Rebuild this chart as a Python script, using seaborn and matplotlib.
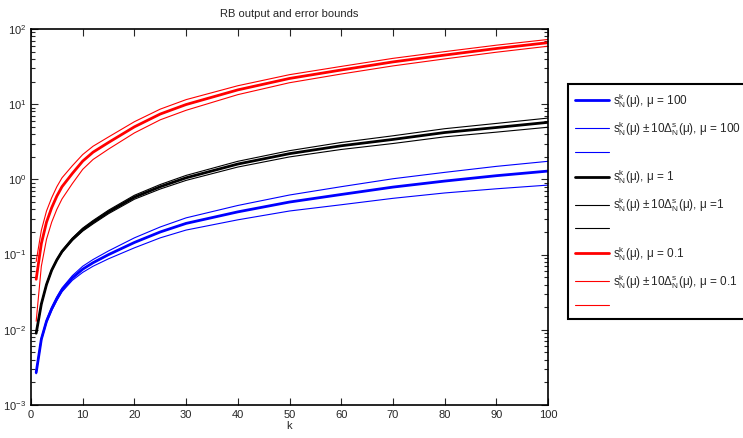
import numpy as np
import pandas as pd
import matplotlib
matplotlib.use("Agg")
import matplotlib.pyplot as plt
import seaborn as sns

# sample points k and values
k = [1, 2, 3, 4, 5, 6, 8, 10, 12, 15, 20, 25, 30, 40, 50, 60, 70, 80, 90, 100]

# mu = 100 (blue)
s_100 = [0.0027, 0.0075, 0.013, 0.019, 0.026, 0.034, 0.049, 0.064, 0.078, 0.10,
         0.145, 0.20, 0.26, 0.37, 0.50, 0.63, 0.79, 0.95, 1.12, 1.29]
d_100 = [0.0001, 0.0003, 0.0006, 0.001, 0.0015, 0.002, 0.0035, 0.006, 0.008, 0.012,
         0.022, 0.033, 0.048, 0.08, 0.12, 0.17, 0.23, 0.29, 0.37, 0.45]

# mu = 1 (black)
s_1 = [0.009, 0.022, 0.040, 0.062, 0.085, 0.11, 0.16, 0.215, 0.27, 0.37,
       0.58, 0.80, 1.05, 1.6, 2.2, 2.8, 3.4, 4.2, 4.9, 5.74]
d_1 = [0.0001, 0.0004, 0.0008, 0.0015, 0.002, 0.003, 0.006, 0.01, 0.014, 0.02,
       0.035, 0.055, 0.08, 0.14, 0.21, 0.30, 0.40, 0.52, 0.65, 0.80]

# mu = 0.1 (red)
s_01 = [0.047, 0.14, 0.27, 0.42, 0.60, 0.80, 1.2, 1.75, 2.3, 3.1,
        5.0, 7.4, 9.9, 15.5, 22.0, 28.5, 36.5, 45.0, 55.0, 65.8]
d_01 = [0.034, 0.07, 0.11, 0.15, 0.20, 0.25, 0.32, 0.39, 0.46, 0.57,
        0.85, 1.2, 1.6, 2.1, 2.7, 3.3, 4.2, 5.0, 5.9, 6.8]

sns.set_style("ticks")
plt.rcParams["font.family"] = ["Liberation Sans", "DejaVu Sans"]
plt.rcParams["mathtext.default"] = "regular"

fig = plt.figure(figsize=(7.43, 4.38), dpi=100)
ax = fig.add_axes([31 / 743, 33 / 438, 517 / 743, 376 / 438])

series = [
    (s_100, d_100, "blue", r"$s^k_N(\mu)$, $\mu$ = 100", r"$s^k_N(\mu) \pm 10\Delta^s_N(\mu)$, $\mu$ = 100"),
    (s_1, d_1, "black", r"$s^k_N(\mu)$, $\mu$ = 1", r"$s^k_N(\mu) \pm 10\Delta^s_N(\mu)$, $\mu$ =1"),
    (s_01, d_01, "red", r"$s^k_N(\mu)$, $\mu$ = 0.1", r"$s^k_N(\mu) \pm 10\Delta^s_N(\mu)$, $\mu$ = 0.1"),
]

handles = []
labels = []
for s, d, col, lab_s, lab_b in series:
    s = np.array(s)
    d = np.array(d)
    df = pd.DataFrame({"k": k, "s": s, "lo": s - d, "hi": s + d})
    sns.lineplot(data=df, x="k", y="s", color=col, linewidth=2.0, ax=ax, legend=False)
    sns.lineplot(data=df, x="k", y="lo", color=col, linewidth=0.8, ax=ax, legend=False)
    sns.lineplot(data=df, x="k", y="hi", color=col, linewidth=0.8, ax=ax, legend=False)
    lines = ax.get_lines()[-3:]
    handles += lines
    labels += [lab_s, lab_b, " "]

ax.set_yscale("log")
ax.set_xlim(0, 100)
ax.set_ylim(1e-3, 1e2)
ax.set_xticks(range(0, 101, 10))
ax.set_xlabel("k", fontsize=8, labelpad=1)
ax.set_ylabel("")
ax.set_title("RB output and error bounds", fontsize=8, pad=9)
ax.tick_params(axis="both", which="both", direction="in", top=True, right=True,
               labelsize=8, width=0.8)
ax.tick_params(axis="both", which="major", length=5)
ax.tick_params(axis="both", which="minor", length=3)
ax.tick_params(axis="x", which="minor", bottom=False, top=False)
for sp in ax.spines.values():
    sp.set_linewidth(1.2)
    sp.set_color("black")

leg = ax.legend(handles, labels, loc="upper left",
                bbox_to_anchor=(568 / 743, 1 - 84 / 438),
                bbox_transform=fig.transFigure, fontsize=8.5,
                frameon=True, fancybox=False, framealpha=1,
                edgecolor="black", borderaxespad=0, handlelength=2.9,
                handletextpad=0.3, labelspacing=0.77, borderpad=0.6)
leg.get_frame().set_linewidth(1.5)

fig.savefig("out.png", dpi=100)
